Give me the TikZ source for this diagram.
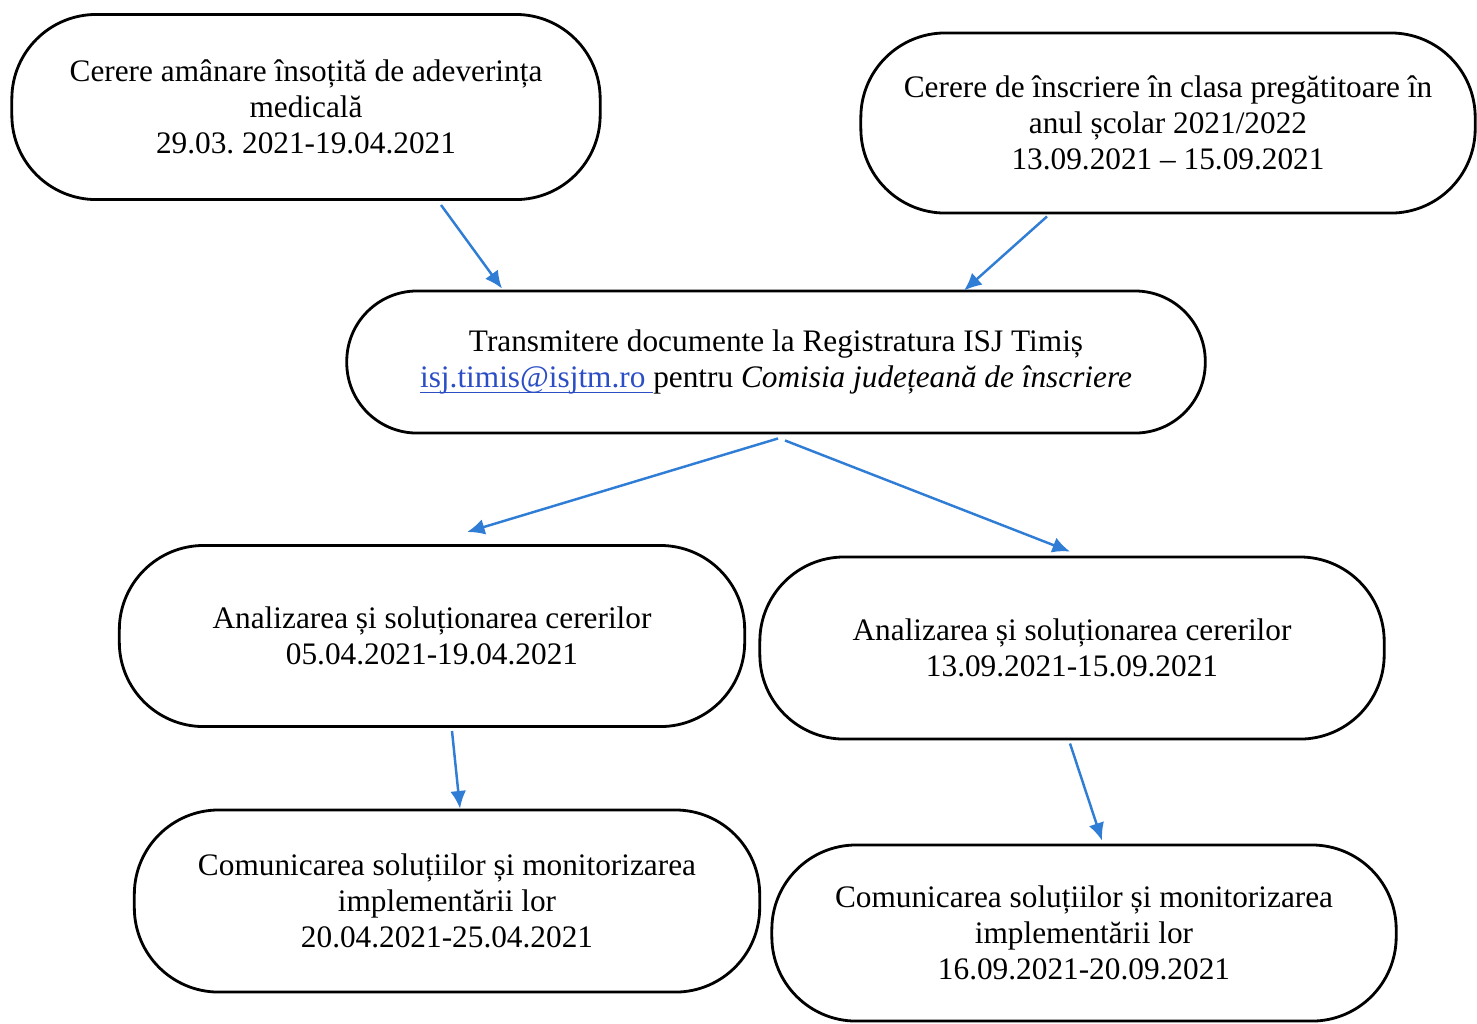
\documentclass[tikz,border=0pt]{standalone}
\usepackage{fontspec}
\setmainfont{Liberation Serif}
\usetikzlibrary{calc,arrows.meta}
\definecolor{arrowblue}{HTML}{2F7DD4}
\definecolor{linkblue}{HTML}{2B4EC4}
\newcommand\emailul[1]{\setbox0\hbox{#1}\leavevmode\rlap{\color{linkblue}\rule[-1.6pt]{\wd0}{0.45pt}}\box0}
\begin{document}
\begin{tikzpicture}[x=0.01cm,y=-0.01cm,
  box/.style={draw=black,line width=0.8pt,rounded corners=24pt,align=center,
    inner sep=0pt,font=\fontsize{8.9}{10.2}\selectfont},
  conn/.style={draw=arrowblue,line width=0.7pt,-{Latex[length=5pt,width=4.5pt]}}]
\useasboundingbox (0,0) rectangle (1477,1023);
\node[box,minimum width=5.88cm,minimum height=1.85cm] (n1) at (306,107)
  {Cerere amânare însoțită de adeverința\\medicală\\29.03.\ 2021-19.04.2021};
\node[box,minimum width=6.14cm,minimum height=1.80cm] (n2) at (1168,123)
  {Cerere de înscriere în clasa pregătitoare în\\anul școlar 2021/2022\\13.09.2021 -- 15.09.2021};
\node[box,rounded corners=20pt,minimum width=8.58cm,minimum height=1.42cm] (n3) at (776,362)
  {Transmitere documente la Registratura ISJ Timiș\\\emailul{\textcolor{linkblue}{isj.timis@isjtm.ro\ }}pentru \textit{Comisia județeană de înscriere}};
\node[box,minimum width=6.25cm,minimum height=1.81cm] (n4) at (432,636)
  {Analizarea și soluționarea cererilor\\05.04.2021-19.04.2021};
\node[box,minimum width=6.24cm,minimum height=1.82cm] (n5) at (1072,648)
  {Analizarea și soluționarea cererilor\\13.09.2021-15.09.2021};
\node[box,minimum width=6.25cm,minimum height=1.82cm] (n6) at (447,901)
  {Comunicarea soluțiilor și monitorizarea\\implementării lor\\20.04.2021-25.04.2021};
\node[box,minimum width=6.24cm,minimum height=1.76cm] (n7) at (1084,933)
  {Comunicarea soluțiilor și monitorizarea\\implementării lor\\16.09.2021-20.09.2021};
\draw[conn] ($(n1.south)+(135,4)$) -- ($(n3.north)+(-274,-1)$);
\draw[conn] ($(n2.south)+(-121,2)$) -- ($(n3.north)+(188,1)$);
\draw[conn] ($(n3.south)+(2,4)$) -- ($(n4.north)+(35,-12)$);
\draw[conn] ($(n3.south)+(9,6)$) -- ($(n5.north)+(-2,-4)$);
\draw[conn] ($(n4.south)+(20,3)$) -- ($(n6.north)+(13,0)$);
\draw[conn] ($(n5.south)+(-2,3)$) -- ($(n7.north)+(18,-3)$);
\end{tikzpicture}
\end{document}
